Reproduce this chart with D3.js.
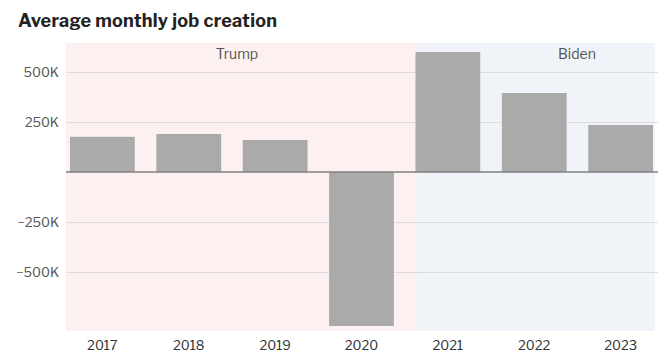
<!DOCTYPE html>
<html>
<head>
<meta charset="utf-8">
<script src="https://cdn.jsdelivr.net/npm/d3@7"></script>
<style>
  body { margin: 0; background: #fff; font-family: "Libre Franklin", Roboto, "Noto Sans", sans-serif; }
  .title { font-weight: 700; font-size: 18px; letter-spacing: 0.25px; fill: #222; }
  .tick-label { font-size: 13px; fill: #555; }
  .term-label { font-size: 14px; fill: #555; }
</style>
</head>
<body>
<svg id="chart"></svg>
<script>
// Data
const years = ["2017", "2018", "2019", "2020", "2021", "2022", "2023"];
const jobs = [176, 190, 160, -770, 600, 395, 235]; // thousands
const yTicks = [-500, -250, 250, 500];
const terms = ["Trump", "Biden"];
const termStart = ["2017", "2021"];

const width = 663, height = 362;
const svg = d3.select("#chart").attr("width", width).attr("height", height);

const x = d3.scaleBand()
    .domain(years)
    .range([70, 653])
    .paddingInner(0.25)
    .paddingOuter(0);

const y = d3.scaleLinear()
    .domain([-795, 645])
    .range([331, 43]);

const bgColors = ["#fcf1f0", "#f0f4f9"];
const plotLeft = 66, plotRight = 655, plotTop = 43, plotBottom = 331;

// Background term regions
terms.forEach((t, i) => {
    const x0 = i === 0 ? plotLeft : x(termStart[i]) + 1;
    const x1 = i === terms.length - 1 ? plotRight : x(termStart[i + 1]) + 1;
    svg.append("rect")
        .attr("x", x0).attr("y", plotTop)
        .attr("width", x1 - x0).attr("height", plotBottom - plotTop)
        .attr("fill", bgColors[i]);
});

// Term labels
const labelX = [237, 577];
terms.forEach((t, i) => {
    svg.append("text")
        .attr("class", "term-label")
        .attr("x", labelX[i]).attr("y", 59)
        .attr("text-anchor", "middle")
        .text(t);
});

// Gridlines and y labels
const fmt = d => (d < 0 ? "\u2212" : "") + Math.abs(d) + "K";
yTicks.forEach(v => {
    svg.append("line")
        .attr("x1", plotLeft).attr("x2", 658)
        .attr("y1", Math.round(y(v)) + 0.5).attr("y2", Math.round(y(v)) + 0.5)
        .attr("stroke", "#dcdcdc").attr("stroke-width", 1);
    svg.append("text")
        .attr("class", "tick-label")
        .attr("x", 59).attr("y", y(v) + 5)
        .attr("text-anchor", "end")
        .text(fmt(v));
});

// Bars
svg.append("g")
    .selectAll("rect")
    .data(years)
    .enter().append("rect")
    .attr("x", d => x(d))
    .attr("width", x.bandwidth())
    .attr("y", (d, i) => Math.min(y(jobs[i]), y(0)))
    .attr("height", (d, i) => Math.abs(y(jobs[i]) - y(0)))
    .attr("fill", "#aaaaaa");

// Zero line
svg.append("line")
    .attr("x1", plotLeft).attr("x2", 658)
    .attr("y1", y(0)).attr("y2", y(0))
    .attr("stroke", "#808080").attr("stroke-width", 1.5);

// X labels
svg.append("g")
    .selectAll("text")
    .data(years)
    .enter().append("text")
    .attr("class", "tick-label")
    .attr("x", d => x(d) + x.bandwidth() / 2)
    .attr("y", 350)
    .attr("text-anchor", "middle")
    .style("fill", "#333")
    .text(d => d);

// Title
svg.append("text")
    .attr("class", "title")
    .attr("x", 18).attr("y", 27)
    .text("Average monthly job creation");
</script>
</body>
</html>
